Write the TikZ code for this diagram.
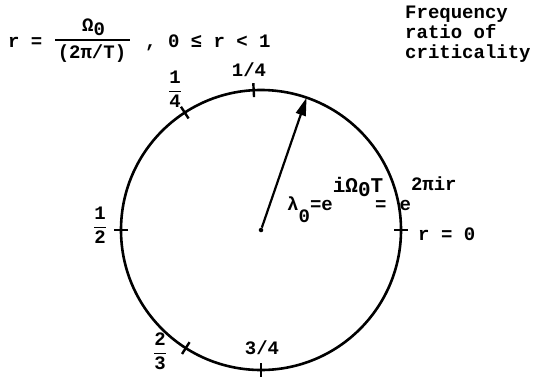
\documentclass[tikz,border=0pt]{standalone}
\usepackage{fontspec}
\setmainfont{Liberation Mono}
\usetikzlibrary{arrows.meta}
\tikzset{
  lbl/.style={font=\fontsize{19}{20}\selectfont\bfseries, inner sep=0pt},
  tick/.style={line width=2.4pt},
  rim/.style={line width=2.6pt},
}
\newcommand{\supbig}[1]{{\fontsize{21}{22}\selectfont #1}}
\begin{document}
\begin{tikzpicture}[x=1pt,y=1pt]
\useasboundingbox (0,0) rectangle (537,376);
\node[circle, fill, inner sep=1.6pt] (C) at (261,146) {};
\draw[rim] (C.center) circle (140);
\foreach \a in {0,93,123,180,237.5,270}
  \draw[tick, shift={(261,146)}] (\a:133) -- (\a:147);
\coordinate (T) at (306.6,278.4);
\draw[line width=2.2pt, -{Triangle[length=18pt,width=10pt]}] (C) -- (T);
% top formula
\node[lbl, anchor=base west] (r) at (8,329) {r =};
\node[lbl, anchor=base west] (num) at (82,345) {Ω\raisebox{-4pt}{0}};
\node[lbl, anchor=base] (den) at (92,318) {(2π/T)};
\draw[line width=1.6pt] (55,336) -- (130,336);
\node[lbl, anchor=base west] (range) at (145,329) {, 0 ≤ r < 1};
% frequency ratio
\node[lbl, anchor=base west] (f1) at (405,358) {Frequency};
\node[lbl, anchor=base west] (f2) at (405,338) {ratio of};
\node[lbl, anchor=base west] (f3) at (405,318) {criticality};
% labels
\node[lbl] (q1) at (249,306) {1/4};
\node[lbl] (q1f) at (175,287) {$\displaystyle\frac{\mbox{1}}{\mbox{4}}$};
\node[lbl] (h) at (100,151) {$\displaystyle\frac{\mbox{1}}{\mbox{2}}$};
\node[lbl] (tt) at (160,25) {$\displaystyle\frac{\mbox{2}}{\mbox{3}}$};
\node[lbl] (q3) at (262,28) {3/4};
\node[lbl, anchor=base west] (r0) at (418,136) {r = 0};
\node[lbl, anchor=base west] (lam) at (287,166)
  {λ\raisebox{-12pt}{0}=e\raisebox{18pt}{\supbig{iΩ\raisebox{-4pt}{0}T}}\kern-8pt=\kern13pt e\raisebox{20pt}{2πir}};
\end{tikzpicture}
\end{document}
